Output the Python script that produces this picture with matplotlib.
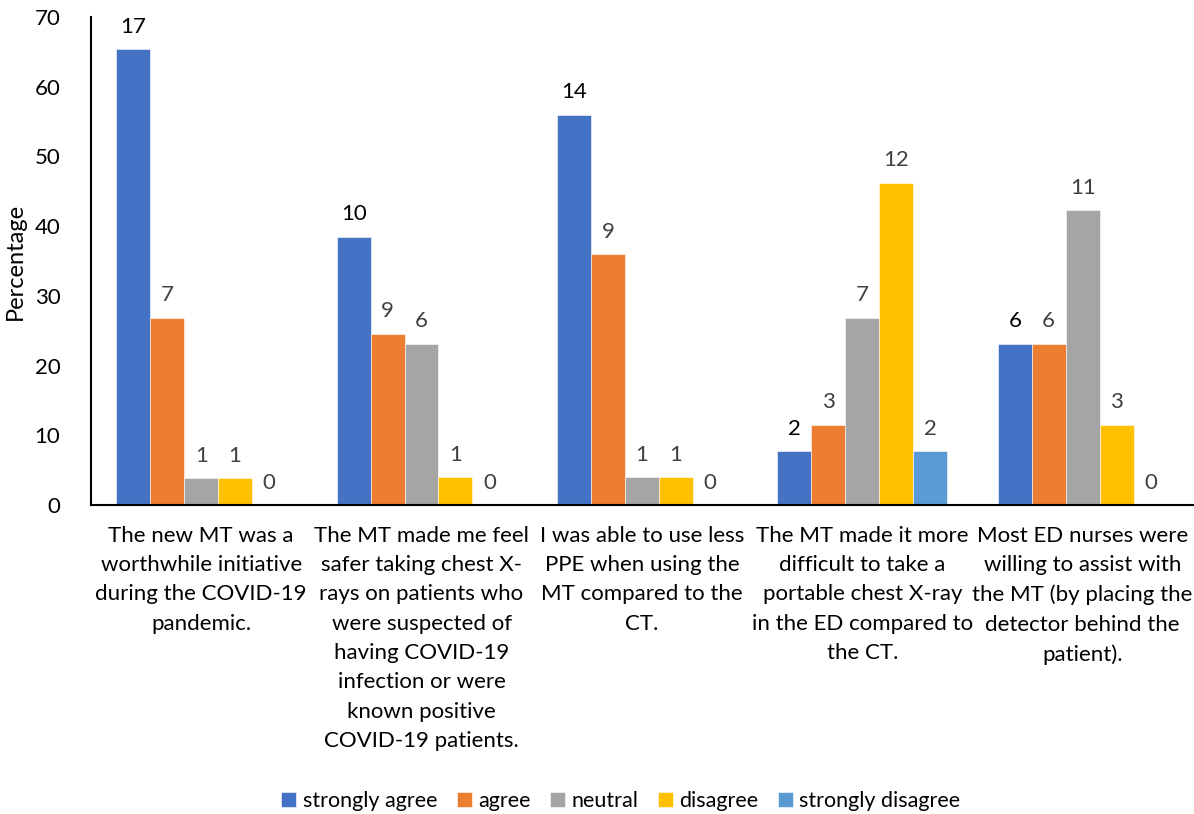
#!/usr/bin/env python3
# grouped bar chart of survey responses on the MT

import numpy as np
import matplotlib.pyplot as plt

plt.rcParams['font.family'] = ['Lato', 'DejaVu Sans']

categories = [
    "The new MT was a\nworthwhile initiative\nduring the COVID-19\npandemic.",
    "The MT made me feel\nsafer taking chest X-\nrays on patients who\nwere suspected of\nhaving COVID-19\ninfection or were\nknown positive\nCOVID-19 patients.",
    "I was able to use less\nPPE when using the\nMT compared to the\nCT.",
    "The MT made it more\ndifficult to take a\nportable chest X-ray\nin the ED compared to\nthe CT.",
    "Most ED nurses were\nwilling to assist with\nthe MT (by placing the\ndetector behind the\npatient).",
]
series = ["strongly agree", "agree", "neutral", "disagree", "strongly disagree"]
colors = ["#4472C4", "#ED7D31", "#A5A5A5", "#FFC000", "#5B9BD5"]

# percentages per series (one value per category)
pct = [
    [65.4, 38.5, 56.0, 7.7, 23.1],
    [26.9, 24.6, 36.0, 11.5, 23.1],
    [3.85, 23.1, 4.0, 26.9, 42.3],
    [3.85, 4.0, 4.0, 46.2, 11.5],
    [0.0, 0.0, 0.0, 7.7, 0.0],
]
# respondent counts shown above bars
counts = [
    [17, 10, 14, 2, 6],
    [7, 9, 9, 3, 6],
    [1, 6, 1, 7, 11],
    [1, 1, 1, 12, 3],
    [0, 0, 0, 2, 0],
]


def main():
    fig = plt.figure(figsize=(11.94, 8.14), dpi=100)
    ax = fig.add_axes([0.0762, 0.3796, 0.9228, 0.5994])

    x = np.arange(len(categories))
    w = 0.154
    for i, name in enumerate(series):
        pos = x + (i - 2) * w
        bars = ax.bar(pos, pct[i], w, color=colors[i], label=name,
                      edgecolor='white', linewidth=0.4)
        lab_color = 'black' if i == 0 else '#404040'
        for b, c in zip(bars, counts[i]):
            ax.annotate(str(c), (b.get_x() + b.get_width() / 2, b.get_height()),
                        xytext=(0, 9), textcoords='offset points',
                        ha='center', va='bottom', fontsize=16, color=lab_color)

    ax.set_xlim(-0.5, len(categories) - 0.5)
    ax.set_ylim(0, 70)
    ax.set_yticks(range(0, 71, 10))
    ax.set_xticks(x)
    ax.set_xticklabels(categories, fontsize=16, linespacing=1.58, va='top')
    ax.tick_params(axis='both', length=0, labelsize=16)
    ax.tick_params(axis='x', pad=15)
    ax.tick_params(axis='y', pad=22)
    for s in ['top', 'right']:
        ax.spines[s].set_visible(False)
    ax.spines['left'].set_linewidth(1.5)
    ax.spines['bottom'].set_linewidth(1.5)
    ax.set_ylabel("Percentage", fontsize=17, labelpad=6)

    fig.legend(loc='lower center', bbox_to_anchor=(0.52, -0.02), ncol=5,
               frameon=False, fontsize=15.5, handlelength=0.7, handleheight=0.7,
               handletextpad=0.3, columnspacing=0.9)

    fig.savefig("out.png", dpi=100)


if __name__ == "__main__":
    main()
